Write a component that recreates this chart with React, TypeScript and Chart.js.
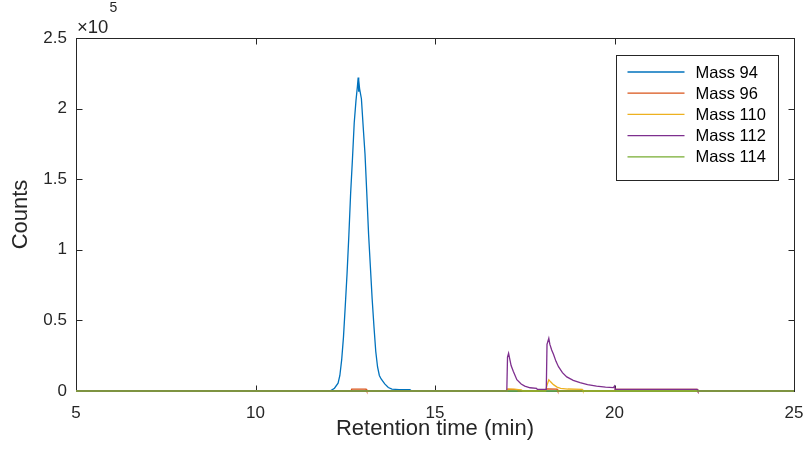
import React, { useEffect, useRef } from 'react';
import { Chart, registerables } from 'chart.js';

Chart.register(...registerables);

const seriesNames = ['Mass 94', 'Mass 96', 'Mass 110', 'Mass 112', 'Mass 114'];
const seriesColors = ['#0072BD', '#D95319', '#EDB120', '#7E2F8E', '#77AC30'];

const time94 = [5, 12.0, 12.1, 12.2, 12.3, 12.35, 12.4, 12.45, 12.5, 12.55, 12.6, 12.65, 12.7, 12.75, 12.8, 12.84, 12.86, 12.87, 12.88, 12.9, 12.95, 13.0, 13.05, 13.1, 13.15, 13.2, 13.25, 13.3, 13.35, 13.4, 13.45, 13.5, 13.6, 13.7, 13.8, 14.0, 14.3, 14.35, 25];
const counts94 = [0, 0, 300, 2000, 5500, 11000, 22000, 38000, 60000, 83000, 110000, 140000, 164000, 190000, 206000, 216000, 222000, 212000, 220000, 214000, 207000, 187000, 168000, 140000, 111000, 88000, 65000, 45500, 28000, 17000, 11000, 8500, 5000, 2500, 1300, 1000, 900, 0, 0];

const time96 = [5, 12.66, 12.68, 13.08, 13.1, 17.0, 17.02, 17.3, 17.32, 17.85, 17.87, 18.1, 18.12, 18.4, 18.42, 20.0, 20.02, 22.3, 22.32, 25];
const counts96 = [0, 0, 1300, 1300, 0, 0, 1200, 1000, 0, 0, 1000, 1000, 1500, 1300, 0, 0, 1100, 1100, 0, 0];

const time110 = [5, 17.0, 17.03, 17.2, 17.4, 17.45, 18.08, 18.12, 18.17, 18.22, 18.3, 18.4, 18.5, 18.7, 19.1, 19.12, 25];
const counts110 = [0, 0, 1500, 1300, 800, 0, 0, 4000, 8000, 6500, 4500, 2800, 1900, 1400, 1100, 0, 0];

const time112 = [5, 17.0, 17.02, 17.05, 17.08, 17.12, 17.18, 17.28, 17.4, 17.5, 17.65, 17.83, 17.85, 18.1, 18.12, 18.17, 18.2, 18.25, 18.3, 18.37, 18.44, 18.55, 18.67, 18.85, 19.04, 19.25, 19.5, 19.75, 19.97, 20.0, 20.02, 22.3, 22.32, 25];
const counts112 = [0, 0, 24000, 26700, 23000, 18000, 14000, 8000, 5000, 3500, 2300, 1800, 1200, 1200, 33000, 37300, 33000, 29000, 26000, 21000, 17200, 13000, 10000, 7500, 5900, 4500, 3500, 2800, 2400, 3500, 1200, 1200, 0, 0];

const time114 = [5, 25];
const counts114 = [0, 0];

const seriesTimes = [time94, time96, time110, time112, time114];
const seriesCounts = [counts94, counts96, counts110, counts112, counts114];

const xTicks = [5, 10, 15, 20, 25];
const xTickLabels = ['5', '10', '15', '20', '25'];
const yTicks = [0, 50000, 100000, 150000, 200000, 250000];
const yTickLabels = ['0', '0.5', '1', '1.5', '2', '2.5'];
const xTitle = 'Retention time (min)';
const yTitle = 'Counts';
const exponentBase = '×10';
const exponentPower = '5';

const FONT = '"Liberation Sans", Arial, Helvetica, sans-serif';
const AXIS = '#262626';

const framePlugin = {
  id: 'matlabFrame',
  beforeDatasetsDraw(chart: any) {
    const { ctx, chartArea, scales } = chart;
    const l = Math.round(chartArea.left) + 0.5;
    const r = Math.round(chartArea.right) + 0.5;
    const t = Math.round(chartArea.top) + 0.5;
    const b = Math.round(chartArea.bottom) + 0.5;
    ctx.save();
    ctx.strokeStyle = AXIS;
    ctx.lineWidth = 1;
    ctx.strokeRect(l, t, r - l, b - t);
    const tl = 6;
    ctx.beginPath();
    xTicks.forEach((v) => {
      const px = Math.round(scales.x.getPixelForValue(v)) + 0.5;
      ctx.moveTo(px, b); ctx.lineTo(px, b - tl);
      ctx.moveTo(px, t); ctx.lineTo(px, t + tl);
    });
    yTicks.forEach((v) => {
      const py = Math.round(scales.y.getPixelForValue(v)) + 0.5;
      ctx.moveTo(l, py); ctx.lineTo(l + tl, py);
      ctx.moveTo(r, py); ctx.lineTo(r - tl, py);
    });
    ctx.stroke();
    ctx.fillStyle = AXIS;
    ctx.textBaseline = 'alphabetic';
    ctx.textAlign = 'left';
    ctx.font = `18.5px ${FONT}`;
    const ex = chartArea.left + 1;
    ctx.fillText(exponentBase, ex, chartArea.top - 5);
    const w = ctx.measureText(exponentBase).width;
    ctx.font = `14px ${FONT}`;
    ctx.fillText(exponentPower, ex + w + 1, chartArea.top - 26);
    ctx.restore();
  },
  afterDraw(chart: any) {
    const { ctx, chartArea } = chart;
    const bw = 162;
    const bh = 125;
    const bx = Math.round(chartArea.right - 16 - bw) + 0.5;
    const by = Math.round(chartArea.top + 17) + 0.5;
    ctx.save();
    ctx.fillStyle = '#ffffff';
    ctx.fillRect(bx, by, bw, bh);
    ctx.strokeStyle = AXIS;
    ctx.lineWidth = 1;
    ctx.strokeRect(bx, by, bw, bh);
    ctx.font = `16.5px ${FONT}`;
    ctx.textBaseline = 'middle';
    ctx.textAlign = 'left';
    seriesNames.forEach((name, i) => {
      const yy = by + 16.5 + i * 21.2;
      ctx.strokeStyle = seriesColors[i];
      ctx.lineWidth = 1.3;
      ctx.beginPath();
      ctx.moveTo(bx + 11, yy);
      ctx.lineTo(bx + 68, yy);
      ctx.stroke();
      ctx.fillStyle = '#000000';
      ctx.fillText(name, bx + 79, yy + 1);
    });
    ctx.restore();
  },
};

export default function App() {
  const ref = useRef<HTMLCanvasElement | null>(null);
  useEffect(() => {
    if (!ref.current) return;
    const datasets = seriesNames.map((name, i) => ({
      label: name,
      data: seriesTimes[i].map((t, j) => ({ x: t, y: seriesCounts[i][j] })),
      borderColor: seriesColors[i],
      backgroundColor: seriesColors[i],
      borderWidth: 1.3,
      pointRadius: 0,
      tension: 0,
      fill: false,
      clip: 6,
      order: seriesNames.length - i,
    }));
    const chart = new Chart(ref.current, {
      type: 'line',
      data: { datasets },
      options: {
        animation: false,
        responsive: false,
        devicePixelRatio: 1,
        layout: { padding: { left: 0, top: 38, right: 15, bottom: 0 } },
        plugins: { legend: { display: false }, tooltip: { enabled: false }, title: { display: false } },
        scales: {
          x: {
            type: 'linear',
            min: 5,
            max: 25,
            afterBuildTicks: (s: any) => { s.ticks = xTicks.map((v) => ({ value: v })); },
            afterFit: (s: any) => { s.height = 59; s.paddingLeft = 0; s.paddingRight = 0; },
            grid: { display: false, drawTicks: false },
            border: { display: false },
            ticks: {
              padding: 12,
              maxRotation: 0,
              autoSkip: false,
              color: AXIS,
              font: { size: 17, family: FONT },
              callback: (v: any) => xTickLabels[xTicks.indexOf(Number(v))] ?? '',
            },
            title: { display: true, text: xTitle, color: AXIS, font: { size: 22, family: FONT }, padding: { top: 0, bottom: 8 } },
          },
          y: {
            type: 'linear',
            min: 0,
            max: 250000,
            afterBuildTicks: (s: any) => { s.ticks = yTicks.map((v) => ({ value: v })); },
            afterFit: (s: any) => { s.width = 76; s.paddingTop = 0; s.paddingBottom = 0; },
            grid: { display: false, drawTicks: false },
            border: { display: false },
            ticks: {
              padding: 9,
              autoSkip: false,
              color: AXIS,
              font: { size: 17, family: FONT },
              callback: (v: any) => yTickLabels[yTicks.indexOf(Number(v))] ?? '',
            },
            title: { display: true, text: yTitle, color: AXIS, font: { size: 22, family: FONT }, padding: { top: 8, bottom: 0 } },
          },
        },
      },
      plugins: [framePlugin],
    });
    return () => chart.destroy();
  }, []);
  return (
    <div style={{ position: 'absolute', left: 0, top: 0, width: 809, height: 450, background: '#fff' }}>
      <canvas ref={ref} width={809} height={450} />
    </div>
  );
}
